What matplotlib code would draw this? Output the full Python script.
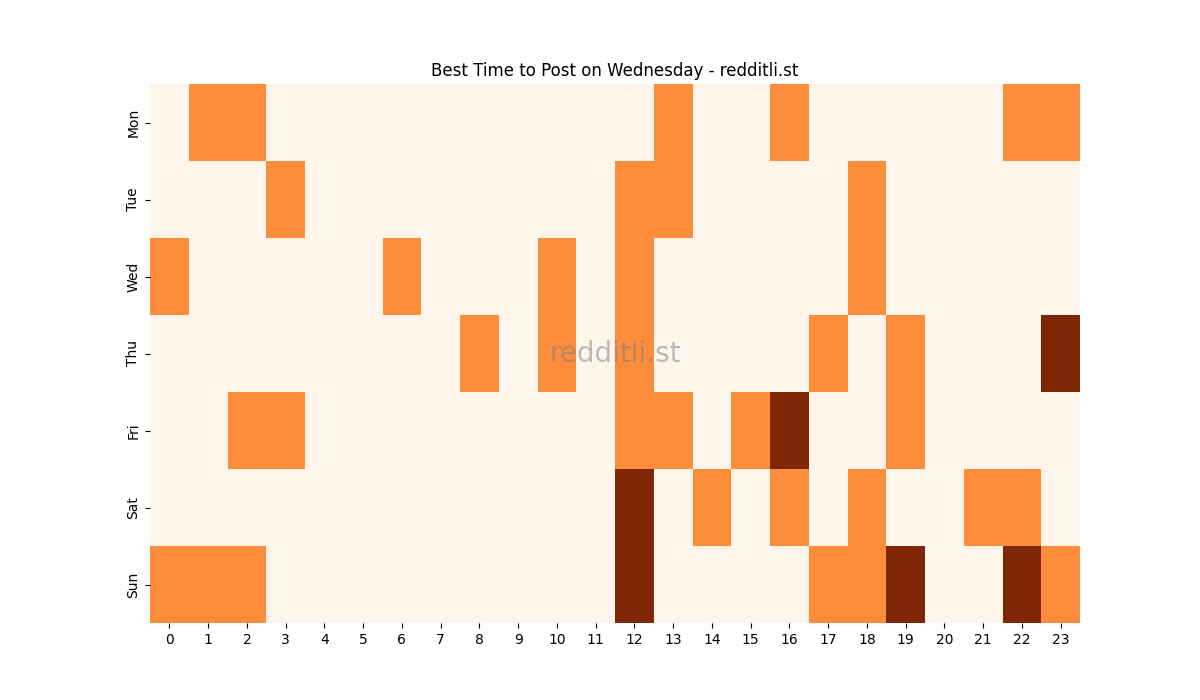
import numpy as np
import matplotlib
matplotlib.use("Agg")
import matplotlib.pyplot as plt
import seaborn as sns

days = ['Mon', 'Tue', 'Wed', 'Thu', 'Fri', 'Sat', 'Sun']
hours = list(range(24))

# activity level per hour (0 = low, 1 = good, 2 = best)
mon = [0, 1, 1, 0, 0, 0, 0, 0, 0, 0, 0, 0, 0, 1, 0, 0, 1, 0, 0, 0, 0, 0, 1, 1]
tue = [0, 0, 0, 1, 0, 0, 0, 0, 0, 0, 0, 0, 1, 1, 0, 0, 0, 0, 1, 0, 0, 0, 0, 0]
wed = [1, 0, 0, 0, 0, 0, 1, 0, 0, 0, 1, 0, 1, 0, 0, 0, 0, 0, 1, 0, 0, 0, 0, 0]
thu = [0, 0, 0, 0, 0, 0, 0, 0, 1, 0, 1, 0, 1, 0, 0, 0, 0, 1, 0, 1, 0, 0, 0, 2]
fri = [0, 0, 1, 1, 0, 0, 0, 0, 0, 0, 0, 0, 1, 1, 0, 1, 2, 0, 0, 1, 0, 0, 0, 0]
sat = [0, 0, 0, 0, 0, 0, 0, 0, 0, 0, 0, 0, 2, 0, 1, 0, 1, 0, 1, 0, 0, 1, 1, 0]
sun = [1, 1, 1, 0, 0, 0, 0, 0, 0, 0, 0, 0, 2, 0, 0, 0, 0, 1, 1, 2, 0, 0, 2, 1]

data = np.array([mon, tue, wed, thu, fri, sat, sun])

fig, ax = plt.subplots(figsize=(12, 7), dpi=100)
sns.heatmap(data, cmap='Oranges', cbar=False, xticklabels=hours, yticklabels=days, ax=ax)

ax.text(0.5, 0.5, 'redditli.st', transform=ax.transAxes, fontsize=20,
        color='gray', alpha=0.5, ha='center', va='center')

plt.title('Best Time to Post on Wednesday - redditli.st')
plt.savefig('out.png', dpi=100)
